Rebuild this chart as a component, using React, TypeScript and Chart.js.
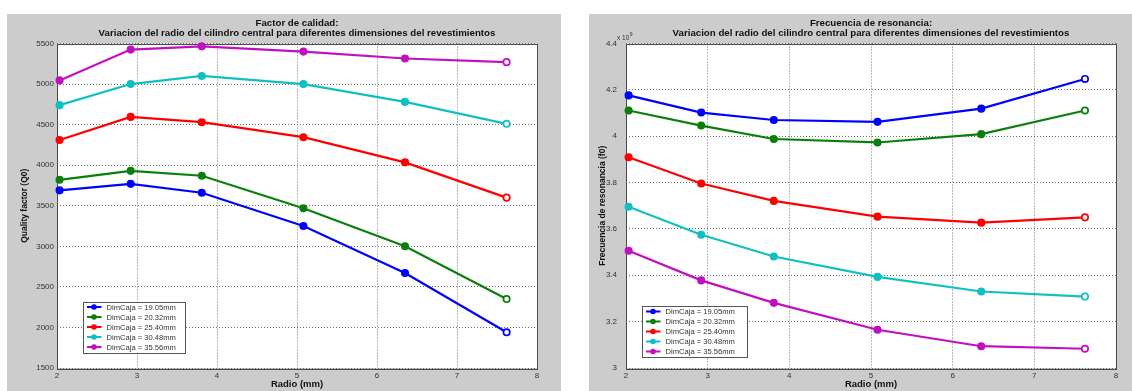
import React, { useEffect, useRef } from 'react';
import { Chart, registerables } from 'chart.js';

Chart.register(...registerables);

// ---------- data ----------
const radioMm = [2.032, 2.921, 3.81, 5.08, 6.35, 7.62];

const seriesLabels = [
  'DimCaja = 19.05mm',
  'DimCaja = 20.32mm',
  'DimCaja = 25.40mm',
  'DimCaja = 30.48mm',
  'DimCaja = 35.56mm',
];
const seriesColors = ['#0000ff', '#0a800a', '#ff0000', '#10c0c0', '#c010c0'];

// Quality factor (Q0)
const q1905 = [3690, 3770, 3660, 3250, 2670, 1940];
const q2032 = [3820, 3930, 3870, 3470, 3000, 2350];
const q2540 = [4310, 4595, 4530, 4345, 4035, 3600];
const q3048 = [4740, 5000, 5100, 5000, 4780, 4510];
const q3556 = [5045, 5425, 5465, 5400, 5315, 5270];

// Resonant frequency (f0), in units of 1e9 Hz
const f1905 = [4.176, 4.102, 4.07, 4.062, 4.119, 4.247];
const f2032 = [4.111, 4.046, 3.988, 3.973, 4.009, 4.111];
const f2540 = [3.909, 3.796, 3.721, 3.653, 3.627, 3.65];
const f3048 = [3.696, 3.575, 3.481, 3.393, 3.33, 3.308];
const f3556 = [3.506, 3.378, 3.281, 3.165, 3.094, 3.083];

const xAxisRange = [2, 8];
const qAxisRange = [1500, 5500];
const fAxisRange = [3, 4.4];
const xStep = 1;
const qStep = 500;
const fStep = 0.2;

const titleQ = ['Factor de calidad:', 'Variacion del radio del cilindro central para diferentes dimensiones del revestimientos'];
const titleF = ['Frecuencia de resonancia:', 'Variacion del radio del cilindro central para diferentes dimensiones del revestimientos'];
const xTitle = 'Radio (mm)';
const yTitleQ = 'Quality factor (Q0)';
const yTitleF = 'Frecuencia de resonancia (f0)';
const fExponent = '9';

const FONT = '"Liberation Sans", Arial, Helvetica, sans-serif';

type Opts = {
  series: number[][];
  yRange: number[];
  yStep: number;
  titles: string[];
  yTitle: string;
  yWidth: number;
  padRight: number;
  tickPad: number;
  yTitleX: number;
  legendDx: number;
  legendDy: number;
  legendW: number;
  exponent?: string;
};

function makeChart(canvas: HTMLCanvasElement, o: Opts) {
  const datasets = o.series.map((vals, i) => ({
    label: seriesLabels[i],
    data: vals.map((v, j) => ({ x: radioMm[j], y: v })),
    borderColor: seriesColors[i],
    backgroundColor: seriesColors[i],
    pointBackgroundColor: vals.map((_, j) => (j === vals.length - 1 ? '#ffffff' : seriesColors[i])),
    pointBorderColor: seriesColors[i],
    borderWidth: 2.2,
    pointRadius: 3.2,
    pointBorderWidth: 1.7,
    tension: 0,
    clip: false as any,
  }));

  const deco = {
    id: 'deco',
    beforeDraw(chart: any) {
      const { ctx, chartArea: a, width, height } = chart;
      ctx.save();
      ctx.fillStyle = '#cccccc';
      ctx.fillRect(0, 0, width, height);
      ctx.fillStyle = '#ffffff';
      ctx.fillRect(a.left, a.top, a.right - a.left, a.bottom - a.top);
      ctx.restore();
    },
    beforeDatasetsDraw(chart: any) {
      const { ctx, chartArea: a } = chart;
      ctx.save();
      ctx.strokeStyle = '#4a4a4a';
      ctx.lineWidth = 1;
      ctx.strokeRect(Math.round(a.left) + 0.5, Math.round(a.top) + 0.5, Math.round(a.right - a.left), Math.round(a.bottom - a.top));
      ctx.restore();
    },
    afterDraw(chart: any) {
      const { ctx, chartArea: a } = chart;
      const cx = (a.left + a.right) / 2;
      const cy = (a.top + a.bottom) / 2;
      ctx.save();
      ctx.fillStyle = '#111111';
      ctx.textAlign = 'center';
      ctx.textBaseline = 'middle';
      ctx.font = `bold 9.7px ${FONT}`;
      ctx.fillText(o.titles[0], cx, a.top - 20);
      ctx.fillText(o.titles[1], cx, a.top - 10);
      ctx.font = `bold 9.5px ${FONT}`;
      ctx.fillText(xTitle, cx, a.bottom + 16.5);
      ctx.save();
      ctx.translate(o.yTitleX, cy);
      ctx.rotate(-Math.PI / 2);
      ctx.font = `bold 8.5px ${FONT}`;
      ctx.fillText(o.yTitle, 0, 0);
      ctx.restore();

      if (o.exponent) {
        ctx.textAlign = 'left';
        ctx.textBaseline = 'alphabetic';
        ctx.fillStyle = '#333333';
        ctx.font = `6.5px ${FONT}`;
        const x0 = a.left - 9;
        const y0 = a.top - 4;
        const t = 'x 10';
        ctx.fillText(t, x0, y0);
        const w = ctx.measureText(t).width;
        ctx.font = `5px ${FONT}`;
        ctx.fillText(o.exponent, x0 + w + 0.5, y0 - 3.5);
      }

      // legend
      const lx = a.left + o.legendDx;
      const lh = 51;
      const ly = a.bottom - o.legendDy - lh;
      ctx.fillStyle = '#ffffff';
      ctx.fillRect(lx, ly, o.legendW, lh);
      ctx.strokeStyle = '#555555';
      ctx.lineWidth = 1;
      ctx.strokeRect(Math.round(lx) + 0.5, Math.round(ly) + 0.5, o.legendW, lh);
      chart.data.datasets.forEach((ds: any, i: number) => {
        const y = ly + 5.5 + i * 10;
        ctx.strokeStyle = ds.borderColor;
        ctx.lineWidth = 2;
        ctx.beginPath();
        ctx.moveTo(lx + 4, y);
        ctx.lineTo(lx + 18.5, y);
        ctx.stroke();
        ctx.fillStyle = ds.borderColor;
        ctx.beginPath();
        ctx.arc(lx + 11, y, 2.8, 0, Math.PI * 2);
        ctx.fill();
        ctx.fillStyle = '#333333';
        ctx.textAlign = 'left';
        ctx.textBaseline = 'middle';
        ctx.font = `7.6px ${FONT}`;
        ctx.fillText(ds.label, lx + 23.5, y + 0.5);
      });
      ctx.restore();
    },
  };

  const gridCommon = {
    color: '#707070',
    lineWidth: 1,
    drawTicks: false,
    borderDash: [1, 2],
  };

  return new Chart(canvas, {
    type: 'line',
    data: { datasets },
    plugins: [deco],
    options: {
      animation: false,
      responsive: false,
      devicePixelRatio: 1,
      events: [],
      layout: { padding: { left: 0, top: 29.5, right: o.padRight, bottom: 0 } },
      plugins: { legend: { display: false }, tooltip: { enabled: false }, title: { display: false } },
      scales: {
        x: {
          type: 'linear',
          min: xAxisRange[0],
          max: xAxisRange[1],
          afterFit: (s: any) => {
            s.height = 23;
          },
          ticks: {
            stepSize: xStep,
            padding: 2.5,
            color: '#333333',
            font: { family: FONT, size: 8 },
            maxRotation: 0,
            autoSkip: false,
          },
          grid: gridCommon as any,
          border: { display: false, dash: [1, 2] } as any,
        },
        y: {
          type: 'linear',
          min: o.yRange[0],
          max: o.yRange[1],
          afterFit: (s: any) => {
            s.width = o.yWidth;
          },
          ticks: {
            stepSize: o.yStep,
            padding: o.tickPad,
            color: '#333333',
            font: { family: FONT, size: 8 },
            autoSkip: false,
            callback: (v: any) => String(Number(Number(v).toFixed(2))),
          },
          grid: gridCommon as any,
          border: { display: false, dash: [1, 2] } as any,
        },
      },
    } as any,
  });
}

export default function App() {
  const leftRef = useRef<HTMLCanvasElement>(null);
  const rightRef = useRef<HTMLCanvasElement>(null);

  useEffect(() => {
    const c1 = makeChart(leftRef.current!, {
      series: [q1905, q2032, q2540, q3048, q3556],
      yRange: qAxisRange,
      yStep: qStep,
      titles: titleQ,
      yTitle: yTitleQ,
      yWidth: 50,
      padRight: 24,
      tickPad: 3,
      yTitleX: 18,
      legendDx: 26,
      legendDy: 15.5,
      legendW: 102,
    });
    const c2 = makeChart(rightRef.current!, {
      series: [f1905, f2032, f2540, f3048, f3556],
      yRange: fAxisRange,
      yStep: fStep,
      titles: titleF,
      yTitle: yTitleF,
      yWidth: 37,
      padRight: 16,
      tickPad: 9,
      yTitleX: 14,
      legendDx: 16,
      legendDy: 11,
      legendW: 105,
      exponent: fExponent,
    });
    return () => {
      c1.destroy();
      c2.destroy();
    };
  }, []);

  return (
    <div style={{ position: 'absolute', left: 0, top: 0, width: 1132, height: 391, background: '#ffffff', overflow: 'hidden' }}>
      <canvas ref={leftRef} width={554} height={377} style={{ position: 'absolute', left: 7, top: 14, width: 554, height: 377 }} />
      <canvas ref={rightRef} width={543} height={377} style={{ position: 'absolute', left: 589, top: 14, width: 543, height: 377 }} />
    </div>
  );
}
